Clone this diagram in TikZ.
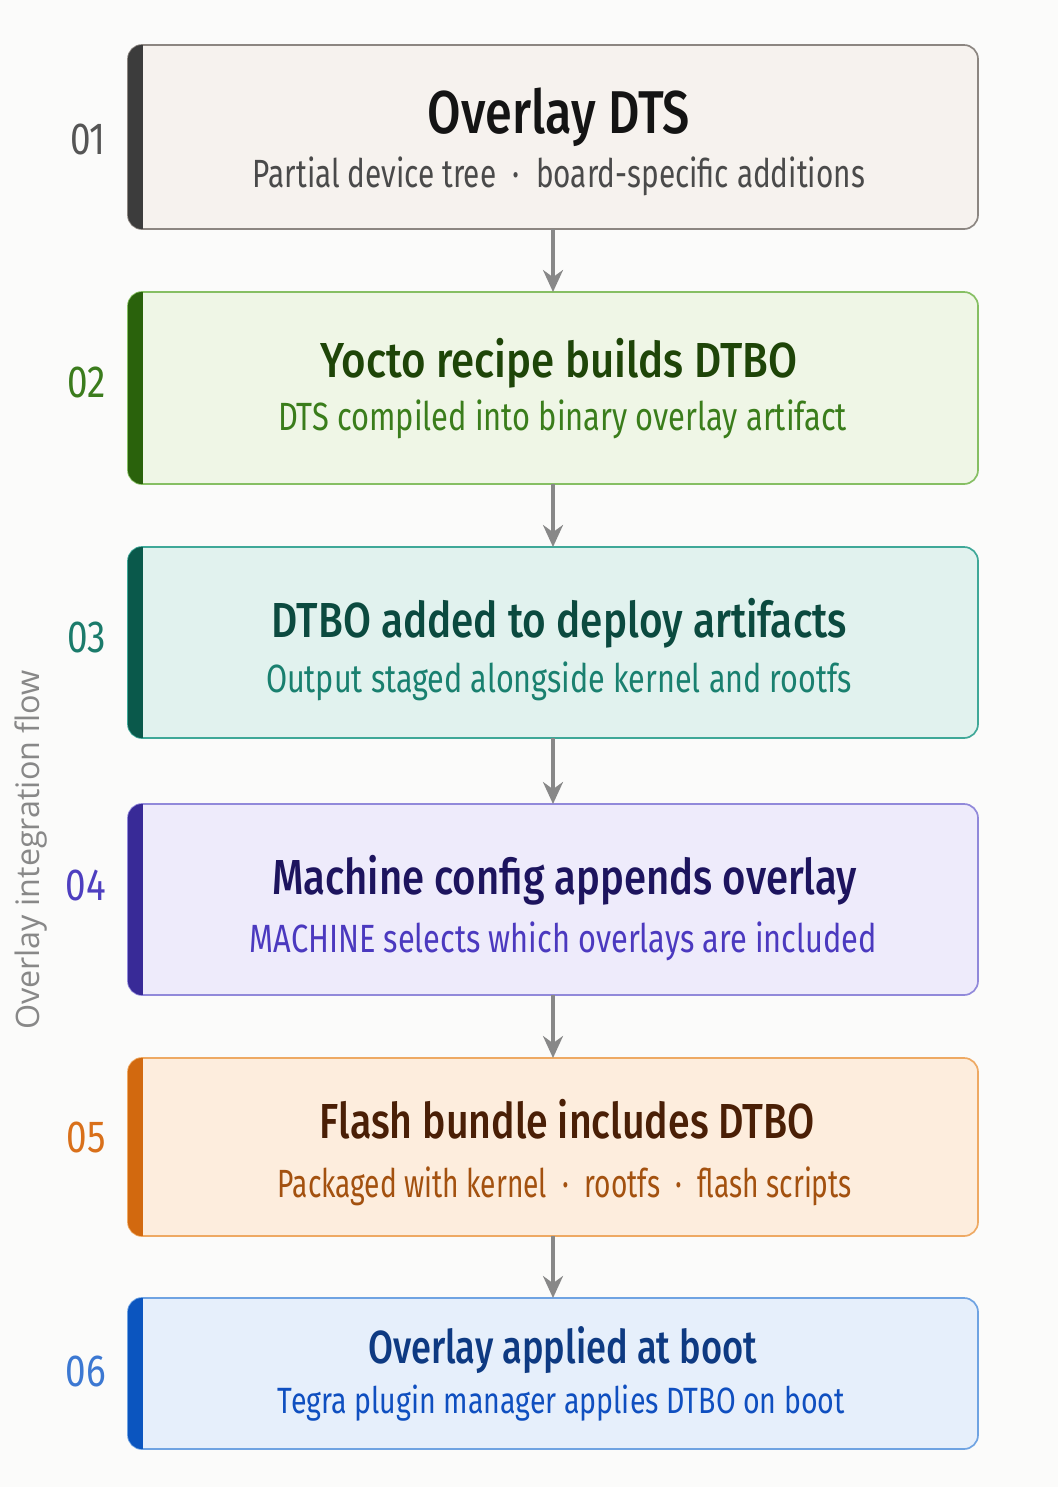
\documentclass[tikz,border=0pt]{standalone}
\usepackage{fontspec}
\setmainfont{Fira Sans}[FakeStretch=0.82]
\newfontfamily\headfont{Fira Sans Medium}[FakeStretch=0.82]
\newfontfamily\sidefont{Open Sans}
\usepackage{graphicx}
\usepackage{xcolor}
\usepackage{tikz}
\usetikzlibrary{arrows.meta,positioning}
\definecolor{pbg}{HTML}{FBFBFA}
\definecolor{parrow}{HTML}{888888}
% stage 1
\definecolor{fill1}{HTML}{F6F2EE}\definecolor{line1}{HTML}{8C8681}\definecolor{bar1}{HTML}{3C3C3C}
\definecolor{head1}{HTML}{141414}\definecolor{sub1}{HTML}{4A4A4A}\definecolor{num1}{HTML}{555555}
% stage 2
\definecolor{fill2}{HTML}{EFF6E6}\definecolor{line2}{HTML}{86BF63}\definecolor{bar2}{HTML}{2A620C}
\definecolor{head2}{HTML}{1E4508}\definecolor{sub2}{HTML}{3A7D1B}\definecolor{num2}{HTML}{3B7C1D}
% stage 3
\definecolor{fill3}{HTML}{E1F2EE}\definecolor{line3}{HTML}{3FA898}\definecolor{bar3}{HTML}{0A594B}
\definecolor{head3}{HTML}{0B4A3F}\definecolor{sub3}{HTML}{19806F}\definecolor{num3}{HTML}{1B7B6B}
% stage 4
\definecolor{fill4}{HTML}{EEEBFB}\definecolor{line4}{HTML}{9189DA}\definecolor{bar4}{HTML}{382A97}
\definecolor{head4}{HTML}{1D145E}\definecolor{sub4}{HTML}{4B39BF}\definecolor{num4}{HTML}{4E3FC0}
% stage 5
\definecolor{fill5}{HTML}{FDEDDD}\definecolor{line5}{HTML}{EEA963}\definecolor{bar5}{HTML}{D2690F}
\definecolor{head5}{HTML}{4A1F06}\definecolor{sub5}{HTML}{A3510F}\definecolor{num5}{HTML}{D9701A}
% stage 6
\definecolor{fill6}{HTML}{E6EFFB}\definecolor{line6}{HTML}{6FA3E2}\definecolor{bar6}{HTML}{0B55BF}
\definecolor{head6}{HTML}{0E3A82}\definecolor{sub6}{HTML}{0F4FC0}\definecolor{num6}{HTML}{3C78D2}
\newcommand{\fitw}[2]{\resizebox{#1}{\height}{#2}}
\newcommand{\dotsep}{\hspace{0.45em}·\hspace{0.45em}}

\begin{document}
\begin{tikzpicture}[
      stage/.style={rounded corners=0.35cm,line width=1.2pt,outer sep=0pt,
                    minimum width=21.25cm,inner sep=0pt},
      ttl/.style={anchor=base,inner sep=0pt,font=\headfont\fontsize{35}{40}\selectfont},
      desc/.style={anchor=base,inner sep=0pt,font=\fontsize{28}{32}\selectfont},
      num/.style={anchor=east,inner sep=0pt,font=\fontsize{32}{36}\selectfont},
      arr/.style={-{Stealth[length=0.55cm,width=0.5cm]},parrow,line width=2.4pt}
    ]
      \useasboundingbox[fill=pbg] (0,0) rectangle (26.45,-37.175);
      % stage boxes
      \node[stage,fill=fill1,draw=line1,minimum height=4.6cm] (b1) at (13.825,-3.425) {};
      \node[stage,fill=fill2,draw=line2,minimum height=4.8cm,below=1.575cm of b1] (b2) {};
      \node[stage,fill=fill3,draw=line3,minimum height=4.775cm,below=1.575cm of b2] (b3) {};
      \node[stage,fill=fill4,draw=line4,minimum height=4.775cm,below=1.65cm of b3] (b4) {};
      \node[stage,fill=fill5,draw=line5,minimum height=4.45cm,below=1.575cm of b4] (b5) {};
      \node[stage,fill=fill6,draw=line6,minimum height=3.775cm,below=1.55cm of b5] (b6) {};
      % accent bars on the left edge
      \foreach \b/\c in {b1/bar1,b2/bar2,b3/bar3,b4/bar4,b5/bar5,b6/bar6}{
        \begin{scope}
          \clip[rounded corners=0.35cm] (\b.south west) rectangle (\b.north east);
          \fill[\c] (\b.south west) rectangle ([xshift=0.375cm]\b.north west);
        \end{scope}
      }
      % titles and descriptions
      \node[ttl,text=head1,font=\headfont\fontsize{43}{48}\selectfont]
        (t1) at ([xshift=0.15cm,yshift=-2.2cm]b1.north) {\fitw{6.55cm}{Overlay DTS}};
      \node[desc,text=sub1] (d1) at ([xshift=0.15cm,yshift=-3.55cm]b1.north)
        {\fitw{15.3cm}{Partial device tree\dotsep board-specific additions}};
      \node[ttl,text=head2] (t2) at ([xshift=0.14cm,yshift=-2.125cm]b2.north)
        {\fitw{11.925cm}{Yocto recipe builds DTBO}};
      \node[desc,text=sub2] (d2) at ([xshift=0.24cm,yshift=-3.45cm]b2.north)
        {\fitw{14.225cm}{DTS compiled into binary overlay artifact}};
      \node[ttl,text=head3] (t3) at ([xshift=0.16cm,yshift=-2.25cm]b3.north)
        {\fitw{14.375cm}{DTBO added to deploy artifacts}};
      \node[desc,text=sub3] (d3) at ([xshift=0.15cm,yshift=-3.625cm]b3.north)
        {\fitw{14.65cm}{Output staged alongside kernel and rootfs}};
      \node[ttl,text=head4] (t4) at ([xshift=0.29cm,yshift=-2.25cm]b4.north)
        {\fitw{14.625cm}{Machine config appends overlay}};
      \node[desc,text=sub4] (d4) at ([xshift=0.26cm,yshift=-3.7cm]b4.north)
        {\fitw{15.675cm}{MACHINE selects which overlays are included}};
      \node[ttl,text=head5] (t5) at ([xshift=0.36cm,yshift=-2.0cm]b5.north)
        {\fitw{12.375cm}{Flash bundle includes DTBO}};
      \node[desc,text=sub5] (d5) at ([xshift=0.3cm,yshift=-3.475cm]b5.north)
        {\fitw{14.35cm}{Packaged with kernel\dotsep rootfs\dotsep flash scripts}};
      \node[ttl,text=head6,font=\headfont\fontsize{33}{38}\selectfont]
        (t6) at ([xshift=0.24cm,yshift=-1.625cm]b6.north) {\fitw{9.725cm}{Overlay applied at boot}};
      \node[desc,text=sub6,font=\fontsize{26}{30}\selectfont] (d6) at ([xshift=0.21cm,yshift=-2.875cm]b6.north)
        {\fitw{14.175cm}{Tegra plugin manager applies DTBO on boot}};
      % step numbers
      \foreach \t/\y [count=\i] in {01/3.475,02/9.55,03/15.925,04/22.125,05/28.425,06/34.275}
        \node[num,text=num\i] (n\i) at (2.65,-\y) {\t};
      \node[rotate=90,text=parrow,font=\sidefont\fontsize{23}{27}\selectfont]
        (side) at (0.775,-21.25) {Overlay integration flow};
      \foreach \a/\b in {b1/b2,b2/b3,b3/b4,b4/b5,b5/b6}
        \draw[arr] (\a) -- (\b);
    \end{tikzpicture}
\end{document}
